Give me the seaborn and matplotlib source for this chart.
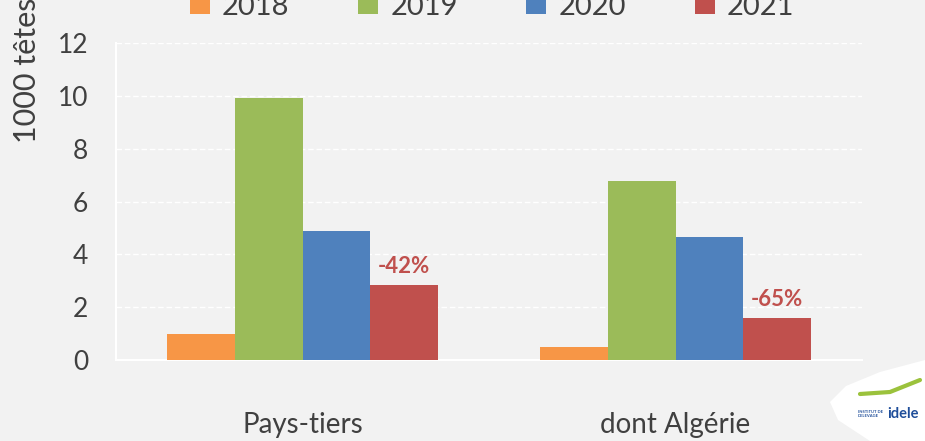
import matplotlib
matplotlib.use("Agg")
import matplotlib.pyplot as plt
from matplotlib.patches import Polygon
import pandas as pd
import seaborn as sns

# ---- Data ----
categories = ["Pays-tiers", "dont Algérie"]
years = ["2018", "2019", "2020", "2021"]
values_2018 = [1.0, 0.5]
values_2019 = [9.9, 6.78]
values_2020 = [4.9, 4.66]
values_2021 = [2.85, 1.6]
evolution_labels = ["-42%", "-65%"]

colors = ["#F79646", "#9BBB59", "#4F81BD", "#C0504D"]
bg = "#F2F2F2"
text_col = "#404040"

rows = []
for year, vals in zip(years, [values_2018, values_2019, values_2020, values_2021]):
    for cat, v in zip(categories, vals):
        rows.append({"categorie": cat, "annee": year, "tetes": v})
df = pd.DataFrame(rows)

sns.set_style("white")
plt.rcParams["font.family"] = ["Lato", "DejaVu Sans"]

W, H = 925, 441
fig = plt.figure(figsize=(9.25, 4.41), dpi=100, facecolor=bg)
ax = fig.add_axes([116 / W, 1 - 360 / H, (862 - 116) / W, (360 - 43) / H])
ax.set_facecolor(bg)

sns.barplot(data=df, x="categorie", y="tetes", hue="annee", palette=colors,
            width=0.727, saturation=1, errorbar=None, legend=False, ax=ax,
            linewidth=0, zorder=3)

ax.set_xlim(-0.5, 1.5)
ax.set_ylim(0, 12)
ax.set_yticks(range(0, 13, 2))
ax.yaxis.grid(True, color="white", linestyle=(0, (4, 2)), linewidth=1, zorder=0)
ax.set_axisbelow(True)

for side in ["top", "right"]:
    ax.spines[side].set_visible(False)
for side in ["left", "bottom"]:
    ax.spines[side].set_color("white")
    ax.spines[side].set_linewidth(1.5)

ax.tick_params(axis="y", length=0, labelsize=19, colors=text_col, pad=20)
# category boundary ticks, labels placed on the minor positions
ax.set_xticks([-0.5, 0.5, 1.5])
ax.set_xticklabels([])
ax.tick_params(axis="x", which="major", length=10, color="white", width=1.5)
ax.set_xticks([0, 1], minor=True)
ax.set_xticklabels(categories, minor=True)
ax.tick_params(axis="x", which="minor", length=0, labelsize=20,
               labelcolor=text_col, pad=52.5)
for lab in ax.get_xticklabels(minor=True):
    lab.set_verticalalignment("baseline")

ax.set_xlabel("")
ax.set_ylabel("")
fig.text(27 / W, 1 - 143 / H, "1000 têtes", rotation=90, ha="center",
         va="bottom", fontsize=22, color=text_col)

# evolution labels above the 2021 bars
red_bars = ax.containers[3]
for bar, lab in zip(red_bars, evolution_labels):
    ax.text(bar.get_x() + bar.get_width() / 2, bar.get_height() + 0.68, lab,
            ha="center", va="center", fontsize=16, fontweight="bold",
            color="#C0504D")

# legend at the top (partly cut by the figure edge)
handles = [plt.Line2D([], [], marker="s", linestyle="", markersize=14,
                      markerfacecolor=c, markeredgewidth=0) for c in colors]
fig.legend(handles, years, loc="center", bbox_to_anchor=(0.531, 0.985),
           ncol=4, frameon=False, fontsize=21, labelcolor=text_col,
           handletextpad=0.35, columnspacing=2.3, handlelength=0.8)

# logo corner
pts = [(830, 402), (846, 386), (880, 372), (925, 360), (925, 441),
       (870, 441), (838, 420)]
logo = Polygon([(x / W, 1 - y / H) for x, y in pts], closed=True,
               transform=fig.transFigure, facecolor="white", edgecolor="none")
fig.patches.append(logo)
fig.add_artist(plt.Line2D([860 / W, 890 / W, 920 / W],
                          [1 - 394 / H, 1 - 392 / H, 1 - 380 / H],
                          color="#9BC23C", linewidth=3,
                          transform=fig.transFigure))
fig.text(858 / W, 1 - 414 / H, "INSTITUT DE\nL'ELEVAGE", fontsize=3,
         color="#1F4E9A", fontweight="bold", va="center", ha="left")
fig.text(887 / W, 1 - 414 / H, "idele", fontsize=10.5, color="#1F4E9A",
         fontweight="bold", va="center", ha="left")

fig.savefig("out.png", dpi=100, facecolor=bg)
